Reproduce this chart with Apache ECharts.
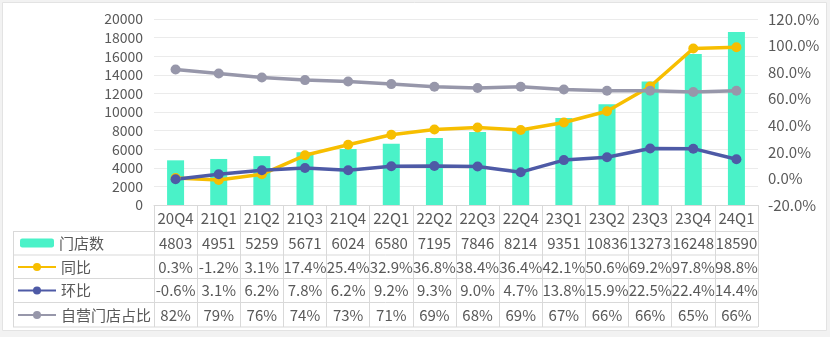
<!DOCTYPE html>
<html><head><meta charset="utf-8">
<script src="https://cdn.jsdelivr.net/npm/echarts@6/dist/echarts.min.js"></script>
<style>html,body{margin:0;padding:0;background:#F2F2F2;}#c{width:830px;height:337px;}</style>
</head><body><div id="c"></div>
<script>
var categories = ['20Q4','21Q1','21Q2','21Q3','21Q4','22Q1','22Q2','22Q3','22Q4','23Q1','23Q2','23Q3','23Q4','24Q1'];
var stores = [4803,4951,5259,5671,6024,6580,7195,7846,8214,9351,10836,13273,16248,18590];
var yoy = [0.3,-1.2,3.1,17.4,25.4,32.9,36.8,38.4,36.4,42.1,50.6,69.2,97.8,98.8];
var qoq = [-0.6,3.1,6.2,7.8,6.2,9.2,9.3,9.0,4.7,13.8,15.9,22.5,22.4,14.4];
var selfShare = [82,79,76,74,73,71,69,68,69,67,66,66,65,66];
var leftTicks = {min:0, max:20000, interval:2000};
var rightTicks = {min:-20, max:120, interval:20};

var FONT = '"Noto Sans CJK SC","Noto Sans",sans-serif';
var TXT = '#595959';
var GRID_C = '#D9D9D9';
var chart = echarts.init(document.getElementById('c'));

var rows = [
  {margin:13, fmt:function(v,i){return v;}},
  {margin:38, fmt:function(v,i){return String(stores[i]);}},
  {margin:62, fmt:function(v,i){return yoy[i].toFixed(1)+'%';}},
  {margin:85.5, fmt:function(v,i){return qoq[i].toFixed(1)+'%';}},
  {margin:110, fmt:function(v,i){return selfShare[i]+'%';}}
];
var xAxes = rows.map(function(r,k){
  return {
    type:'category', data:categories, gridIndex:0, position:'bottom',
    axisLine:{show:k===0, lineStyle:{color:GRID_C,width:1}},
    axisTick:{show:k===0, length:122, interval:0, lineStyle:{color:GRID_C,width:1}},
    axisLabel:{show:true, interval:0, margin:r.margin, verticalAlign:'middle', color:TXT, fontSize:15, fontFamily:FONT, formatter:r.fmt, hideOverlap:false},
    splitLine:{show:false}
  };
});

var hy = [231.5,255,278.5,302.5,327];
var graphics = [
  {type:'rect', shape:{x:2.5,y:2.5,width:824,height:328}, style:{fill:'#fff',stroke:'#E3E3E3',lineWidth:1}, z:-10, silent:true}
];
hy.forEach(function(y){
  graphics.push({type:'line', shape:{x1:13,y1:y,x2:758,y2:y}, style:{stroke:GRID_C,lineWidth:1}, silent:true});
});
graphics.push({type:'line', shape:{x1:13.5,y1:231.5,x2:13.5,y2:327}, style:{stroke:GRID_C,lineWidth:1}, silent:true});

function leg(name, top, left, w, h){
  return {data:[name], orient:'vertical', left:left, top:top, padding:0, itemWidth:w, itemHeight:h, itemGap:0,
    textStyle:{color:TXT, fontSize:15, fontFamily:FONT, lineHeight:20, padding:[0,0,0,0]}, selectedMode:false};
}

chart.setOption({
  animation:false,
  backgroundColor:'transparent',
  textStyle:{fontFamily:FONT},
  grid:{left:154, right:72, top:19, bottom:132, containLabel:false},
  legend:[
    leg('门店数',233,20,34,9),
    leg('同比',257,17,38,10),
    leg('环比',280.5,17,38,10),
    leg('自营门店占比',305,17,38,10)
  ],
  xAxis:xAxes,
  yAxis:[
    {type:'value', min:leftTicks.min, max:leftTicks.max, interval:leftTicks.interval,
     axisLine:{show:false}, axisTick:{show:false},
     axisLabel:{color:TXT, fontSize:14, fontFamily:FONT, margin:11, formatter:function(v){return String(v);}},
     splitLine:{lineStyle:{color:'#EBEBEB',width:1}}},
    {type:'value', min:rightTicks.min, max:rightTicks.max, interval:rightTicks.interval,
     axisLine:{show:false}, axisTick:{show:false},
     axisLabel:{color:TXT, fontSize:15, fontFamily:FONT, margin:10, formatter:function(v){return (Math.round(v*10)/10).toFixed(1)+'%';}},
     splitLine:{show:false}}
  ],
  graphic:graphics,
  series:[
    {name:'门店数', type:'bar', data:stores, yAxisIndex:0, barWidth:17, itemStyle:{color:'#4AF2C8'}},
    {name:'同比', type:'line', data:yoy, yAxisIndex:1, symbol:'circle', symbolSize:10, lineStyle:{width:3.5,color:'#F7BE00'}, itemStyle:{color:'#F7BE00'}},
    {name:'环比', type:'line', data:qoq, yAxisIndex:1, symbol:'circle', symbolSize:10, lineStyle:{width:3.5,color:'#4E5AA6'}, itemStyle:{color:'#4E5AA6'}},
    {name:'自营门店占比', type:'line', data:selfShare, yAxisIndex:1, symbol:'circle', symbolSize:10, lineStyle:{width:3.5,color:'#9797AA'}, itemStyle:{color:'#9797AA'}}
  ]
});
</script></body></html>
